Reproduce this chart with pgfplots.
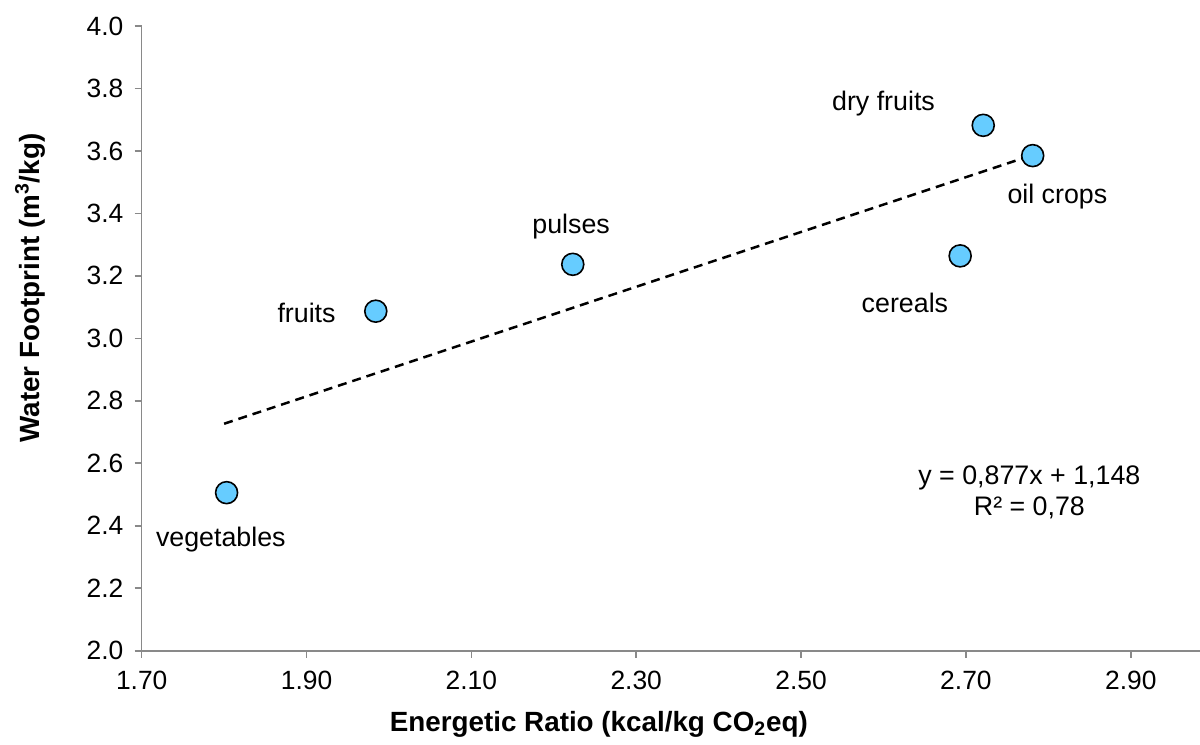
\documentclass[border=0pt]{standalone}
\usepackage{fontspec}
\setmainfont{Liberation Sans}
\usepackage{pgfplots}
\pgfplotsset{compat=1.18}
\definecolor{axgray}{RGB}{137,137,137}
\definecolor{ptblue}{RGB}{102,204,255}
\begin{document}
\fontsize{13.4bp}{15bp}\selectfont
\begin{tikzpicture}
\useasboundingbox (-70.85bp,-47.15bp) rectangle (529.15bp,325.35bp);
\begin{axis}[
  at={(0,0)}, anchor=south west,
  scale only axis,
  width=529.15bp, height=312.35bp,
  xmin=1.70, xmax=2.984, ymin=2.0, ymax=4.0,
  axis lines*=left,
  axis line style={axgray, line width=0.8bp, -},
  xtick={1.7,1.9,2.1,2.3,2.5,2.7,2.9},
  ytick={2.0,2.2,2.4,2.6,2.8,3.0,3.2,3.4,3.6,3.8,4.0},
  xticklabels={1.70,1.90,2.10,2.30,2.50,2.70,2.90},
  yticklabels={2.0,2.2,2.4,2.6,2.8,3.0,3.2,3.4,3.6,3.8,4.0},
  tick style={axgray, line width=0.8bp},
  tick align=outside, major tick length=3.5bp,
  xtick pos=bottom, ytick pos=left,
  ticklabel style={font=\fontsize{13.2bp}{15bp}\selectfont, text=black},
  xticklabel style={yshift=-2bp},
  yticklabel style={xshift=-1bp},
  xlabel={\bfseries Energetic Ratio (kcal/kg CO\textsubscript{2}eq)},
  ylabel={\bfseries Water Footprint (m\textsuperscript{3}/kg)},
  every axis x label/.style={at={(rel axis cs:0.432,-0.1173)}, anchor=center, font=\fontsize{13.9bp}{15bp}\selectfont},
  every axis y label/.style={at={(rel axis cs:-0.1055,0.5806)}, anchor=center, rotate=90, font=\fontsize{13.9bp}{15bp}\selectfont},
  clip=false,
]
\addplot[black, line width=1.25bp, dash pattern=on 4.5bp off 3bp] coordinates {(1.80,2.7266) (2.78,3.5861)};
\addplot[only marks, mark=*, mark size=5.5bp, mark options={fill=ptblue, draw=black, line width=0.8bp}] coordinates {
(1.803,2.506) (1.984,3.087) (2.223,3.237) (2.693,3.264) (2.721,3.682) (2.781,3.585)};
\node at (axis cs:2.600,3.753) {dry fruits};
\node at (axis cs:2.811,3.455) {oil crops};
\node at (axis cs:2.221,3.359) {pulses};
\node at (axis cs:1.900,3.081) {fruits};
\node at (axis cs:2.626,3.115) {cereals};
\node at (axis cs:1.796,2.357) {vegetables};
\node at (axis cs:2.777,2.553) {y = 0,877x + 1,148};
\node at (axis cs:2.777,2.457) {R² = 0,78};
\end{axis}
\end{tikzpicture}
\end{document}
